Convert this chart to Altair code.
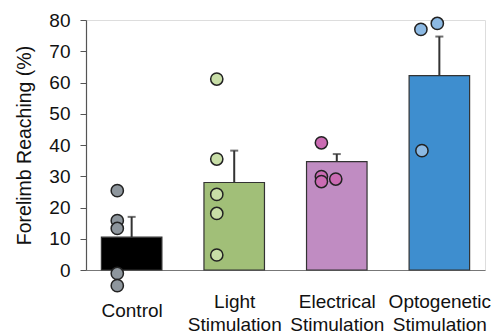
import altair as alt
import pandas as pd

categories = ["Control", "Light Stimulation", "Electrical Stimulation", "Optogenetic Stimulation"]
means = [10.5, 28.0, 34.7, 62.2]
sems = [6.5, 10.2, 2.4, 12.5]
bar_colors = ["#000000", "#A1BF78", "#C08CC2", "#3E8ECF"]
point_colors = ["#8E969D", "#C8DEA7", "#CB6BB3", "#8CB9E3"]

pts_control = [25.4, 15.8, 13.3, -1.1, -5.0]
jit_control = [-0.14, -0.14, -0.14, -0.14, -0.14]
pts_light = [61.1, 35.5, 24.2, 18.1, 4.8]
jit_light = [-0.17, -0.17, -0.17, -0.17, -0.17]
pts_elec = [40.7, 29.9, 28.3, 29.1]
jit_elec = [-0.15, -0.15, -0.15, -0.01]
pts_opto = [77.0, 78.9, 38.2]
jit_opto = [-0.18, -0.02, -0.17]

bars = pd.DataFrame({"group": categories, "pos": list(range(len(categories))),
                     "mean": means, "sem": sems})
rows = []
for i, (cat, vals, jits) in enumerate(zip(categories,
                                          [pts_control, pts_light, pts_elec, pts_opto],
                                          [jit_control, jit_light, jit_elec, jit_opto])):
    for v, j in zip(vals, jits):
        rows.append({"group": cat, "pos": i, "val": v, "jit": j})
points = pd.DataFrame(rows)

font = "Liberation Sans"
HALF = 0.295
xscale = alt.Scale(domain=[-0.445, 3.445], nice=False, zero=False)
label_expr = ("datum.value == 0 ? 'Control' : datum.value == 1 ? ['Light', 'Stimulation'] : "
              "datum.value == 2 ? ['Electrical', 'Stimulation'] : ['Optogenetic', 'Stimulation']")
xaxis = alt.Axis(title=None, values=[0, 1, 2, 3], labelExpr=label_expr, labelAngle=0,
                 ticks=False, tickSize=0, grid=False, labelFlush=False, labelOverlap=False,
                 labelPadding={"condition": {"test": "datum.value == 0", "value": 31},
                               "value": 22.5},
                 labelBaseline="top",
                 labelFontSize=19, labelLineHeight=22.5, labelFont=font,
                 labelColor="#111", domainColor="#777", domainWidth=1.2)
yscale = alt.Scale(domain=[0, 80], nice=False, zero=False)
yaxis = alt.Axis(title="Forelimb Reaching (%)", values=list(range(0, 81, 10)),
                 labelOverlap=False, tickSize=6, tickColor="#555", domainColor="#555",
                 domainWidth=1.2, labelFontSize=19, labelFont=font, labelColor="#111",
                 labelPadding=10, titleFontSize=19.5, titleFont=font,
                 titleFontWeight="normal", titleColor="#111", titlePadding=14, grid=False)

color_bar = alt.Color("group:N", scale=alt.Scale(domain=categories, range=bar_colors),
                      legend=None)
color_pt = alt.Color("group:N", scale=alt.Scale(domain=categories, range=point_colors),
                     legend=None)

bar_layer = alt.Chart(bars).transform_calculate(
    x1=f"datum.pos - {HALF}", x2=f"datum.pos + {HALF}"
).mark_bar(stroke="#333", strokeWidth=1.2).encode(
    x=alt.X("x1:Q", scale=xscale, axis=xaxis), x2="x2:Q",
    y=alt.Y("mean:Q", scale=yscale, axis=yaxis), y2=alt.datum(0), color=color_bar)
err_layer = alt.Chart(bars).transform_calculate(
    top="datum.mean + datum.sem"
).mark_rule(color="#333", strokeWidth=2).encode(
    x=alt.X("pos:Q", scale=xscale, axis=xaxis),
    y=alt.Y("mean:Q", scale=yscale, axis=yaxis), y2="top:Q")
cap_layer = alt.Chart(bars).transform_calculate(
    top="datum.mean + datum.sem"
).mark_tick(color="#333", size=8, thickness=2, orient="horizontal").encode(
    x=alt.X("pos:Q", scale=xscale, axis=xaxis),
    y=alt.Y("top:Q", scale=yscale, axis=yaxis))
pt_layer = alt.Chart(points).transform_calculate(
    xp="datum.pos + datum.jit"
).mark_circle(size=150, opacity=1, stroke="#222", strokeWidth=1.5).encode(
    x=alt.X("xp:Q", scale=xscale, axis=xaxis),
    y=alt.Y("val:Q", scale=yscale, axis=yaxis), color=color_pt)

chart = alt.layer(bar_layer, err_layer, cap_layer, pt_layer).resolve_scale(
    color="independent").properties(
    width=399, height=250, autosize=alt.AutoSizeParams(type="none"),
    padding={"left": 78, "top": 12, "right": 10, "bottom": 61}
).configure_view(stroke=None).configure(background="white")

chart.save("out.html", embed_options={"renderer": "svg", "actions": False})
